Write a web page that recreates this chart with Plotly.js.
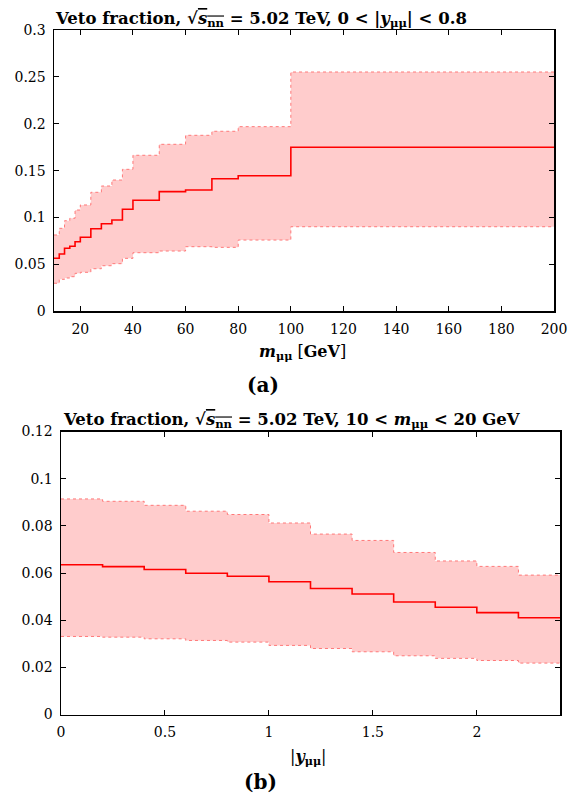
<!DOCTYPE html>
<html>
<head>
<meta charset="utf-8">
<script src="https://cdn.plot.ly/plotly-3.0.1.min.js"></script>
<style>html,body{margin:0;padding:0;background:#fff;}#chart{width:574px;height:793px;}</style>
</head>
<body>
<div id="chart"></div>
<script>
// ---- Panel (a): veto fraction vs m_mumu, 0 < |y| < 0.8 ----
const massEdges   = [10, 12, 14, 16, 18, 20, 24, 28, 32, 36, 40, 50, 60, 70, 80, 100, 200];
const massCentral = [0.0565, 0.0611, 0.0672, 0.0693, 0.0742, 0.0789, 0.0881, 0.0934, 0.0974, 0.1088, 0.1184, 0.1276, 0.1294, 0.1414, 0.1446, 0.1749];
const massUpper   = [0.0814, 0.0885, 0.0966, 0.0992, 0.1080, 0.1134, 0.1269, 0.1336, 0.1400, 0.1514, 0.1664, 0.1781, 0.1877, 0.1920, 0.1969, 0.2552];
const massLower   = [0.0299, 0.0341, 0.0355, 0.0369, 0.0405, 0.0416, 0.0454, 0.0486, 0.0508, 0.0565, 0.0625, 0.0643, 0.0689, 0.0682, 0.0760, 0.0902];

// ---- Panel (b): veto fraction vs |y_mumu|, 10 < m < 20 GeV ----
const rapEdges   = [0, 0.2, 0.4, 0.6, 0.8, 1.0, 1.2, 1.4, 1.6, 1.8, 2.0, 2.2, 2.4];
const rapCentral = [0.0635, 0.0627, 0.0615, 0.0599, 0.0586, 0.0563, 0.0534, 0.0511, 0.0477, 0.0455, 0.0432, 0.0410];
const rapUpper   = [0.0914, 0.0904, 0.0887, 0.0862, 0.0848, 0.0812, 0.0765, 0.0738, 0.0687, 0.0651, 0.0628, 0.0591];
const rapLower   = [0.0331, 0.0328, 0.0321, 0.0314, 0.0307, 0.0293, 0.0280, 0.0266, 0.0249, 0.0238, 0.0229, 0.0218];

const massXTicks = [20, 40, 60, 80, 100, 120, 140, 160, 180, 200];
const massYTicks = [0, 0.05, 0.1, 0.15, 0.2, 0.25, 0.3];
const rapXTicks  = [0, 0.5, 1, 1.5, 2];
const rapYTicks  = [0, 0.02, 0.04, 0.06, 0.08, 0.1, 0.12];

// step helper: edges + bin values -> x/y for 'hv' line shape
function stepY(vals){ return vals.concat([vals[vals.length-1]]); }

const FILL = 'rgb(255,204,204)';
const EDGE = 'rgb(255,120,120)';
const RED  = 'rgb(255,0,0)';

function bandTraces(edges, lo, hi, c, xa, ya){
  return [
    {x: edges, y: stepY(lo), xaxis: xa, yaxis: ya, mode: 'lines', line: {shape: 'hv', color: EDGE, width: 1, dash: 'dot'}, hoverinfo: 'skip', showlegend: false},
    {x: edges, y: stepY(hi), xaxis: xa, yaxis: ya, mode: 'lines', fill: 'tonexty', fillcolor: FILL, line: {shape: 'hv', color: EDGE, width: 1, dash: 'dot'}, hoverinfo: 'skip', showlegend: false},
    {x: edges, y: stepY(c), xaxis: xa, yaxis: ya, mode: 'lines', line: {shape: 'hv', color: RED, width: 1.6}, showlegend: false}
  ];
}

const data = bandTraces(massEdges, massLower, massUpper, massCentral, 'x', 'y')
  .concat(bandTraces(rapEdges, rapLower, rapUpper, rapCentral, 'x2', 'y2'));

const SERIF = "DejaVu Serif";
const TICKFONT = {family: SERIF, size: 14, color: '#000'};
function ax(extra){
  return Object.assign({
    showgrid: false, zeroline: false, showline: true, linecolor: '#000', linewidth: 1.5,
    mirror: 'ticks', ticks: 'inside', ticklen: 5, tickwidth: 1, tickcolor: '#000',
    tickfont: TICKFONT, tickmode: 'array', ticklabelstandoff: 4
  }, extra);
}

const W = 574, H = 793;
const px = v => v / W;
const py = v => (H - v) / H;

const layout = {
  width: W, height: H,
  margin: {l: 0, r: 0, t: 0, b: 0},
  paper_bgcolor: '#fff', plot_bgcolor: '#fff',
  showlegend: false,
  xaxis:  ax({domain: [px(54), px(554)], range: [10, 200], tickvals: massXTicks, anchor: 'y'}),
  yaxis:  ax({domain: [py(311.3), py(30)], range: [0, 0.3], tickvals: massYTicks, anchor: 'x'}),
  xaxis2: ax({domain: [px(61), px(560)], range: [0, 2.4], tickvals: rapXTicks, anchor: 'y2'}),
  yaxis2: ax({domain: [py(714.5), py(431.5)], range: [0, 0.12], tickvals: rapYTicks, anchor: 'x2'}),
  annotations: [
    {xref: 'paper', yref: 'paper', x: px(53), y: py(19), xanchor: 'left', yanchor: 'middle', showarrow: false,
     font: {family: SERIF, size: 16.5, color: '#000'},
     text: "<b>Veto fraction, √<span style='text-decoration:overline'><i>s</i><sub>nn</sub></span> = 5.02 TeV, 0 &lt; |<i>y</i><sub>μμ</sub>| &lt; 0.8</b>"},
    {xref: 'paper', yref: 'paper', x: px(61), y: py(420), xanchor: 'left', yanchor: 'middle', showarrow: false,
     font: {family: SERIF, size: 16.5, color: '#000'},
     text: "<b>Veto fraction, √<span style='text-decoration:overline'><i>s</i><sub>nn</sub></span> = 5.02 TeV, 10 &lt; <i>m</i><sub>μμ</sub> &lt; 20 GeV</b>"},
    {xref: 'paper', yref: 'paper', x: px(302), y: py(352), xanchor: 'center', yanchor: 'middle', showarrow: false,
     font: {family: SERIF, size: 16, color: '#000'},
     text: "<b><i>m</i><sub>μμ</sub></b> [<b>GeV</b>]"},
    {xref: 'paper', yref: 'paper', x: px(263), y: py(385), xanchor: 'center', yanchor: 'middle', showarrow: false,
     font: {family: SERIF, size: 20, color: '#000'},
     text: "<b>(a)</b>"},
    {xref: 'paper', yref: 'paper', x: px(308), y: py(757), xanchor: 'center', yanchor: 'middle', showarrow: false,
     font: {family: SERIF, size: 16, color: '#000'},
     text: "|<b><i>y</i><sub>μμ</sub></b>|"},
    {xref: 'paper', yref: 'paper', x: px(260), y: py(782), xanchor: 'center', yanchor: 'middle', showarrow: false,
     font: {family: SERIF, size: 20, color: '#000'},
     text: "<b>(b)</b>"}
  ]
};

Plotly.newPlot('chart', data, layout, {staticPlot: true, displayModeBar: false});
</script>
</body>
</html>
